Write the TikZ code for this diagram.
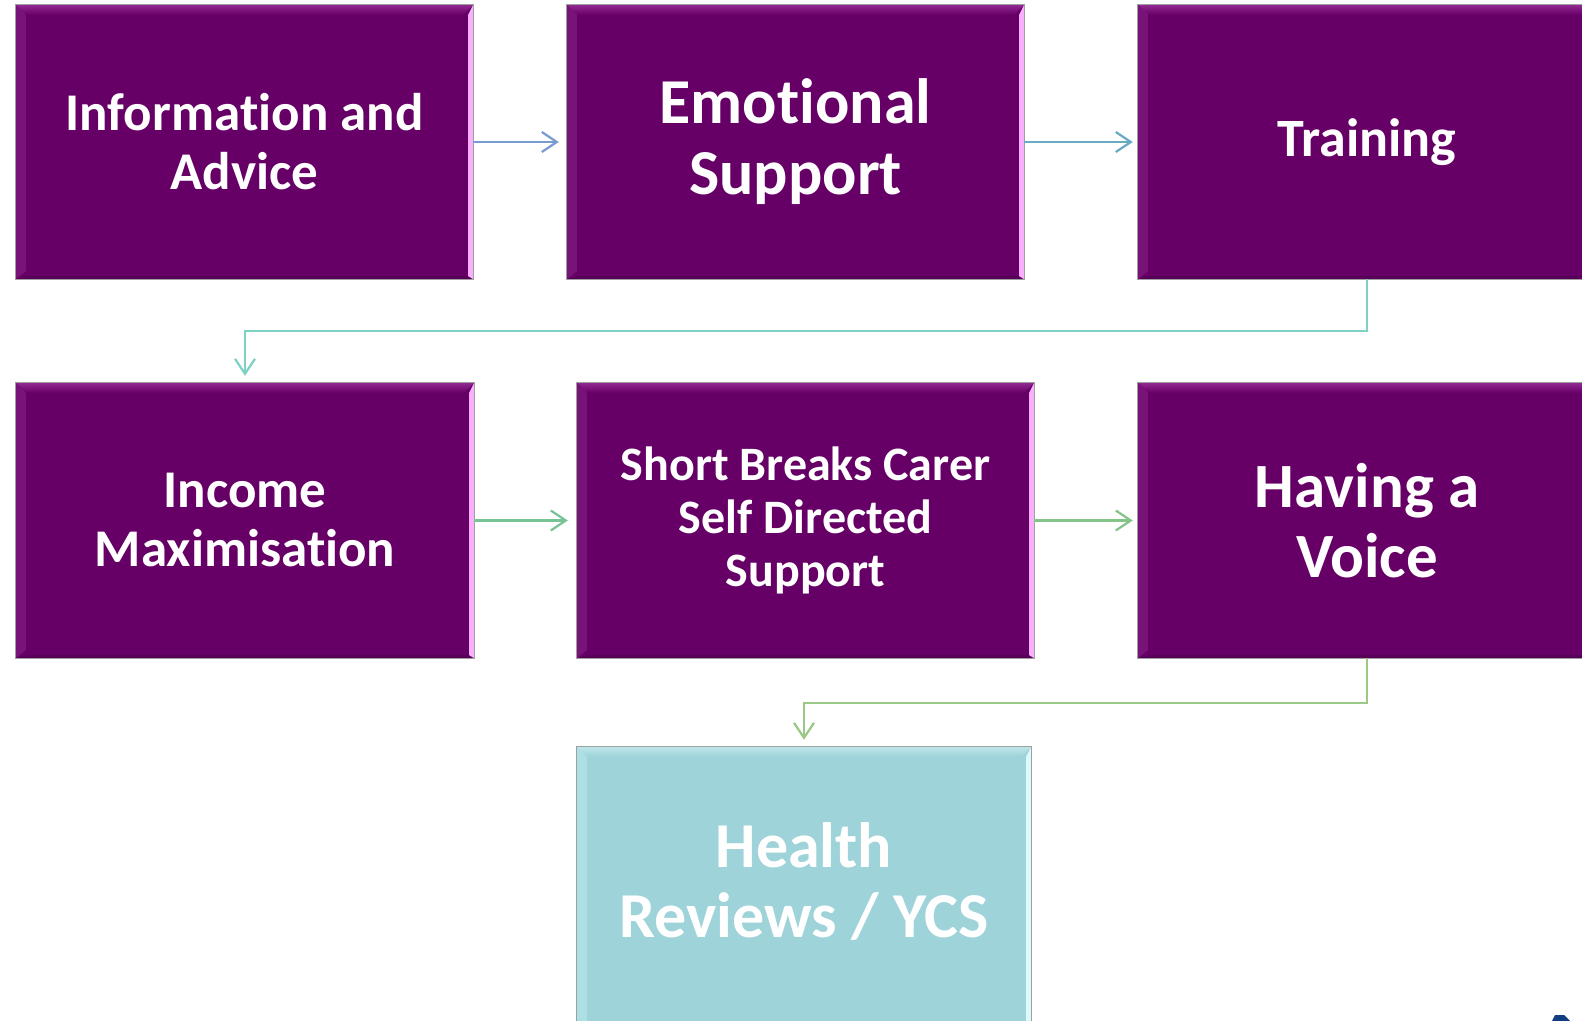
\documentclass[tikz,border=0pt]{standalone}
\usepackage{fontspec}
\setmainfont{Carlito}[Ligatures=NoCommon]
\usetikzlibrary{arrows.meta,calc}
\definecolor{plum}{RGB}{102,0,102}
\definecolor{plumtop}{RGB}{200,90,200}
\definecolor{plumleft}{RGB}{120,20,120}
\definecolor{plumright}{RGB}{250,175,255}
\definecolor{aqua}{RGB}{158,211,217}
\definecolor{aquatop}{RGB}{225,252,253}
\definecolor{aqualeft}{RGB}{172,224,229}
\definecolor{aquaright}{RGB}{220,250,252}
\definecolor{cA}{RGB}{120,155,210}
\definecolor{cB}{RGB}{105,170,195}
\definecolor{cC}{RGB}{125,210,195}
\definecolor{cD}{RGB}{120,195,150}
\definecolor{cE}{RGB}{132,196,136}
\definecolor{cF}{RGB}{155,200,135}
\definecolor{logoblue}{RGB}{20,60,130}
\newcommand\bevelbox[5]{%
  \shade[top color=#2!55!#3, middle color=#3, bottom color=#2]
    (#1.north west) -- (#1.north east) -- ([shift={(-10,10)}]#1.north east)
    -- ([shift={(10,10)}]#1.north west) -- cycle;
  \fill[#4] (#1.north west) -- ([shift={(10,10)}]#1.north west)
    -- ([shift={(10,-8)}]#1.south west) -- (#1.south west) -- cycle;
  \fill[#2!85!black] (#1.south west) -- (#1.south east)
    -- ([shift={(-5,-3)}]#1.south east) -- ([shift={(10,-3)}]#1.south west) -- cycle;
  \fill[#5] (#1.north east) -- (#1.south east)
    -- ([shift={(-5,-3)}]#1.south east) -- ([shift={(-5,10)}]#1.north east) -- cycle;
  \draw[gray!75, line width=0.9pt] (#1.north west) rectangle (#1.south east);
}
\begin{document}
\begin{tikzpicture}[x=1pt,y=-1pt,
  pbox/.style={rectangle, fill=plum, minimum width=457pt, minimum height=274pt,
    inner sep=0pt, text=white, align=center},
  cbox/.style={pbox, fill=aqua},
  btext/.style={inner sep=0pt, text=white, align=center},
  conn/.style={line width=2.2pt, -{Straight Barb[length=15pt,width=20pt,line width=2.2pt]}},
  elbow/.style={line width=2.2pt, -{Straight Barb[length=15pt,width=20pt,line width=2.2pt]}}]
\clip (0,0) rectangle (1582,1020);
\fill[white] (0,0) rectangle (1582,1020);

\node[pbox, font={\fontsize{53}{59}\selectfont\bfseries}] (b1) at (244.5,142) {Information and\\Advice};
\node[pbox, font={\fontsize{64}{71}\selectfont\bfseries}] (b2) at (795.5,142) {Emotional\\Support};
\node[pbox, minimum width=458pt, font={\fontsize{54}{60}\selectfont\bfseries}] (b3) at (1367,142) {Training};
\node[pbox, minimum width=458pt, minimum height=275pt, font={\fontsize{53}{59}\selectfont\bfseries}] (b4) at (245,520.5) {Income\\Maximisation};
\node[pbox, minimum height=275pt, font={\fontsize{48}{53}\selectfont\bfseries}] (b5) at (805.5,520.5) {Short Breaks Carer\\Self Directed\\Support};
\node[pbox, minimum width=458pt, minimum height=275pt, font={\fontsize{63}{70}\selectfont\bfseries}] (b6) at (1367,520.5) {Having a\\Voice};
\node[cbox, minimum width=454pt, minimum height=284pt] (b7) at (804,889) {};

\bevelbox{b1}{plum}{plumtop}{plumleft}{plumright}
\bevelbox{b2}{plum}{plumtop}{plumleft}{plumright}
\bevelbox{b3}{plum}{plumtop}{plumleft}{plumright}
\bevelbox{b4}{plum}{plumtop}{plumleft}{plumright}
\bevelbox{b5}{plum}{plumtop}{plumleft}{plumright}
\bevelbox{b6}{plum}{plumtop}{plumleft}{plumright}
\bevelbox{b7}{aqua}{aquatop}{aqualeft}{aquaright}
\node[btext, font={\fontsize{64}{70}\selectfont\bfseries}] (b7t) at (804,881) {Health\\Reviews / YCS};

\draw[conn, cA, shorten >=8pt] (b1.east) -- (b2.west);
\draw[conn, cB, shorten >=5pt] (b2.east) -- (b3.west);
\draw[elbow, cC, shorten >=7pt] (b3.south) |- ($(b4.north)+(0,-52)$) -- (b4.north);
\draw[conn, cD, shorten >=9pt] (b4.east) -- (b5.west);
\draw[conn, cE, shorten >=5pt] (b5.east) -- (b6.west);
\draw[elbow, cF, shorten >=7pt] (b6.south) |- ($(b7.north)+(0,-44)$) -- (b7.north);

\fill[logoblue] (1552,1021) -- (1555,1015) -- (1564,1015) -- (1570,1021) -- cycle;
\end{tikzpicture}
\end{document}
